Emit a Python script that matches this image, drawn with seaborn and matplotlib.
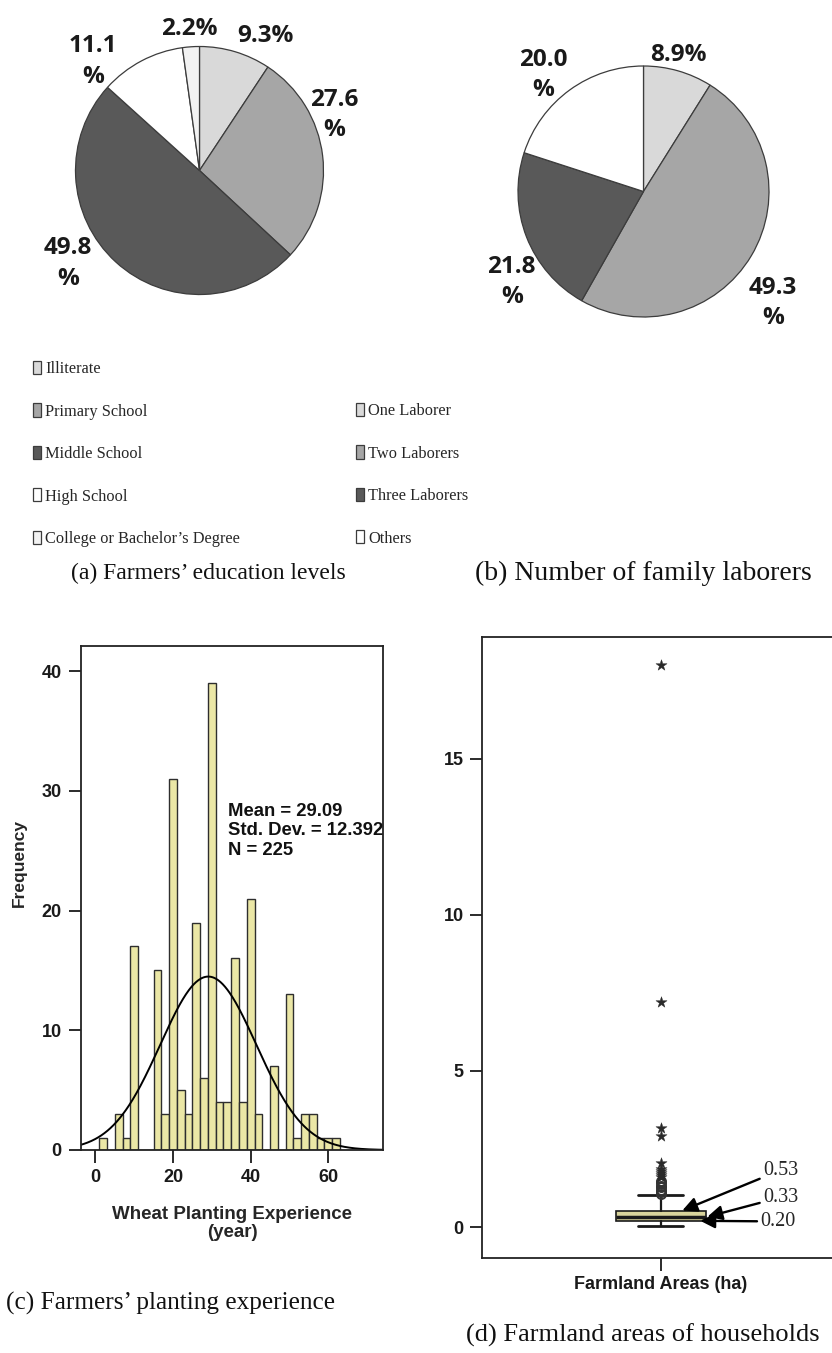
import numpy as np
import pandas as pd
import matplotlib
matplotlib.use("Agg")
import matplotlib.pyplot as plt
import seaborn as sns

# ---------------- data ----------------
edu_levels = ["Illiterate", "Primary School", "Middle School", "High School",
              "College or Bachelor\u2019s Degree"]
edu_share = [9.3, 27.6, 49.8, 11.1, 2.2]

labor_groups = ["One Laborer", "Two Laborers", "Three Laborers", "Others"]
labor_share = [8.9, 49.3, 21.8, 20.0]

# planting experience histogram: 2-year bins from 1 to 63 years
exp_bin_start, exp_bin_end, exp_bin_width = 1, 63, 2
exp_counts = [1, 0, 3, 1, 17, 0, 0, 15, 3, 31, 5, 3, 19, 6, 39, 4,
              4, 16, 4, 21, 3, 0, 7, 0, 13, 1, 3, 3, 1, 1, 1]
exp_mean, exp_sd, exp_n = 29.09, 12.392, 225

# farmland area box plot (ha)
area_q1, area_median, area_q3 = 0.20, 0.33, 0.53
area_whisker_low, area_whisker_high = 0.05, 1.02
area_outliers = [1.07, 1.13, 1.20, 1.27, 1.33, 1.40, 1.47]
area_extremes = [1.60, 1.67, 1.73, 1.80, 1.87, 2.05, 2.91, 3.18, 7.2, 18.0]

# ---------------- style ----------------
sns.set_style("white")
plt.rcParams["font.family"] = ["Liberation Sans", "DejaVu Sans"]
SERIF = ["Liberation Serif", "DejaVu Serif"]
PIE_FONT = ["Open Sans", "DejaVu Sans"]
grays_edu = ["#d9d9d9", "#a6a6a6", "#595959", "#ffffff", "#f2f2f2"]
grays_lab = ["#d9d9d9", "#a6a6a6", "#595959", "#ffffff"]
bar_color = "#ebe7a6"
box_color = "#d9d49c"

W, H = 832, 1353
fig = plt.figure(figsize=(W / 100, H / 100), dpi=100)


def px_rect(left, top, right, bottom):
    return [left / W, 1 - bottom / H, (right - left) / W, (bottom - top) / H]


def pie_panel(cx, cy, r, values, colors, label_xy):
    lim = 1.6
    half = lim * r
    ax = fig.add_axes(px_rect(cx - half, cy - half, cx + half, cy + half))
    wedges, _ = ax.pie(values, colors=colors, startangle=90, counterclock=False,
                       radius=1.0,
                       wedgeprops=dict(edgecolor="#3c3c3c", linewidth=0.9))
    ax.set_xlim(-lim, lim)
    ax.set_ylim(-lim, lim)
    ax.set_aspect("equal")
    ax.axis("off")
    for v, (x, y) in zip(values, label_xy):
        txt = f"{v:.1f}\n%" if v >= 10 else f"{v:.1f}%"
        ax.text(x, y, txt, ha="center", va="center", fontsize=17.5,
                fontweight="bold", family=PIE_FONT, linespacing=1.35,
                color="#1a1a1a")
    return wedges


# ---------------- (a) education pie ----------------
edu_label_xy = [(0.53, 1.085), (1.09, 0.45), (-1.06, -0.75), (-0.86, 0.88), (-0.08, 1.14)]
wedges_a = pie_panel(199.5, 170.5, 124, edu_share, grays_edu, edu_label_xy)

# ---------------- (b) laborers pie ----------------
lab_label_xy = [(0.28, 1.09), (1.03, -0.89), (-1.05, -0.72), (-0.80, 0.93)]
wedges_b = pie_panel(643.5, 191.5, 125.5, labor_share, grays_lab, lab_label_xy)

leg_kw = dict(loc="upper left", frameon=False,
              prop=dict(family=SERIF, size=11.8),
              handlelength=0.5, handleheight=0.85, handletextpad=0.25,
              labelspacing=1.6, borderpad=0, borderaxespad=0)
fig.legend(wedges_a, edu_levels, bbox_to_anchor=(33 / W, 1 - 361 / H), **leg_kw)
fig.legend(wedges_b, labor_groups, bbox_to_anchor=(356 / W, 1 - 403 / H), **leg_kw)

# ---------------- (c) planting experience histogram ----------------
axc = fig.add_axes(px_rect(81, 646, 383, 1150))
bin_left = np.arange(exp_bin_start, exp_bin_end, exp_bin_width)
hist_df = pd.DataFrame({"year": bin_left + exp_bin_width / 2, "count": exp_counts})
sns.histplot(data=hist_df, x="year", weights="count", binwidth=exp_bin_width,
             binrange=(exp_bin_start, exp_bin_end),
             color=bar_color, edgecolor="#2e2e2e", linewidth=1.0, alpha=1.0,
             ax=axc)
xs = np.linspace(-4, 75, 400)
pdf = np.exp(-0.5 * ((xs - exp_mean) / exp_sd) ** 2) / (exp_sd * np.sqrt(2 * np.pi))
axc.plot(xs, exp_n * exp_bin_width * pdf, color="black", linewidth=1.4)
axc.set_xlim(-3.7, 74.1)
axc.set_ylim(0, 42.1)
axc.set_xticks([0, 20, 40, 60])
axc.set_yticks([0, 10, 20, 30, 40])
axc.set_xlabel("Wheat Planting Experience\n(year)", fontsize=13.5,
               fontweight="bold", linespacing=1.05, labelpad=14)
axc.set_ylabel("Frequency", fontsize=12.5, fontweight="bold")
axc.yaxis.set_label_coords(-0.18, 0.57)
axc.tick_params(direction="out", length=9, width=1.3, labelsize=13, pad=5,
                left=True, bottom=True, colors="#1a1a1a")
for t in axc.get_xticklabels() + axc.get_yticklabels():
    t.set_fontweight("bold")
for s in axc.spines.values():
    s.set_visible(True)
    s.set_linewidth(1.3)
    s.set_color("#222222")
axc.text(34.2, 29.0,
         f"Mean = {exp_mean:.2f}\nStd. Dev. = {exp_sd:.3f}\nN = {exp_n}",
         ha="left", va="top", fontsize=13.3, fontweight="bold",
         linespacing=1.2, color="#111111", clip_on=False)

# ---------------- (d) farmland area box plot ----------------
axd = fig.add_axes(px_rect(481.7, 636.7, 840, 1258.3))
box_stats = [dict(med=area_median, q1=area_q1, q3=area_q3,
                  whislo=area_whisker_low, whishi=area_whisker_high,
                  fliers=area_outliers, label="Farmland Areas (ha)")]
axd.bxp(box_stats, positions=[0], widths=0.5, capwidths=0.25,
        patch_artist=True, showfliers=True,
        boxprops=dict(facecolor=box_color, edgecolor="#1a1a1a", linewidth=1.2),
        medianprops=dict(color="#1a1a1a", linewidth=2.5),
        whiskerprops=dict(color="#1a1a1a", linewidth=1.6),
        capprops=dict(color="#1a1a1a", linewidth=2.0),
        flierprops=dict(marker="o", markerfacecolor="none",
                        markeredgecolor="#333333", markersize=6.5,
                        markeredgewidth=1.4))
sns.scatterplot(x=[0] * len(area_extremes), y=area_extremes, marker="*",
                s=70, color="#2a2a2a", edgecolor="#2a2a2a", linewidth=0.3,
                ax=axd, zorder=5, legend=False)
axd.set_xlim(-1, 1)
axd.set_ylim(-1.0, 18.9)
axd.set_yticks([0, 5, 10, 15])
axd.set_xticks([0])
axd.set_xticklabels(["Farmland Areas (ha)"])
axd.set_xlabel("")
axd.set_ylabel("")
axd.tick_params(direction="out", length=9, width=1.3, labelsize=13, pad=4,
                left=True, bottom=True, colors="#1a1a1a")
for t in axd.get_xticklabels() + axd.get_yticklabels():
    t.set_fontweight("bold")
for s in axd.spines.values():
    s.set_visible(True)
    s.set_linewidth(1.3)
    s.set_color("#222222")

arrow_kw = dict(arrowstyle="-|>", color="black", lw=1.7, mutation_scale=22,
                shrinkA=0, shrinkB=0)
for val, tip_x, txt_xy in [(area_q3, 0.12, (0.57, 1.82)),
                           (area_median, 0.26, (0.57, 0.95)),
                           (area_q1, 0.22, (0.555, 0.18))]:
    axd.annotate(f"{val:.2f}", xy=(tip_x, val), xytext=txt_xy,
                 ha="left", va="center", fontsize=14.5, family=SERIF,
                 arrowprops=arrow_kw, annotation_clip=False)

# ---------------- panel captions ----------------
cap_kw = dict(ha="center", va="center", family=SERIF, color="#111111")
fig.text(208 / W, 1 - 573 / H, "(a) Farmers\u2019 education levels", fontsize=17, **cap_kw)
fig.text(643 / W, 1 - 573 / H, "(b) Number of family laborers", fontsize=20, **cap_kw)
fig.text(171 / W, 1 - 1303 / H, "(c) Farmers\u2019 planting experience", fontsize=18.2, **cap_kw)
fig.text(643 / W, 1 - 1335 / H, "(d) Farmland areas of households", fontsize=19, **cap_kw)

fig.savefig("out.png", dpi=100, facecolor="white")
